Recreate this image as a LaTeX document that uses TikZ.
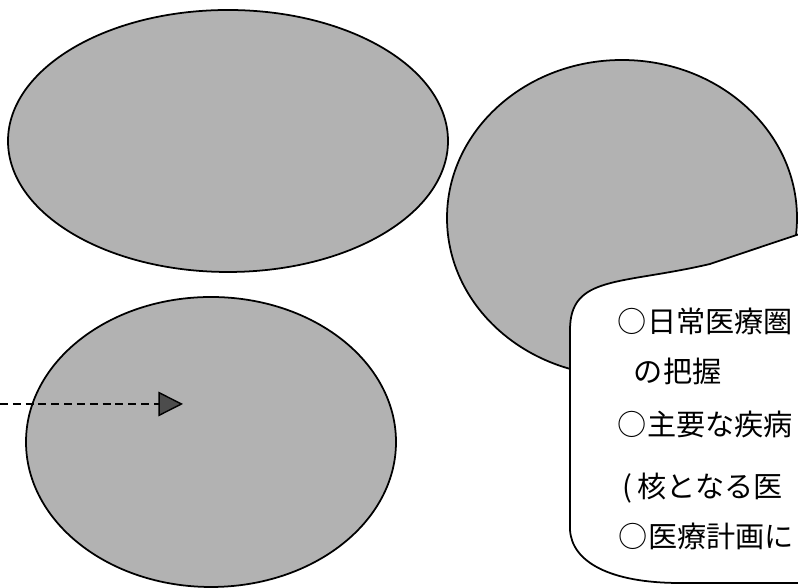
\documentclass[tikz,border=0pt]{standalone}
\usepackage{fontspec}
\newfontfamily\jpfont{Noto Sans CJK JP}
\usetikzlibrary{arrows.meta}

\begin{document}
\begin{tikzpicture}[line width=1pt]
\useasboundingbox (0,0) rectangle (15.96,11.76);
\tikzset{blob/.style={fill=black!30},
         memo/.style={anchor=west,inner sep=0pt,font=\jpfont\fontsize{16.6}{20}\selectfont}}

\draw[blob] (4.56,8.94) ellipse (4.4 and 2.62);
\draw[blob] (4.22,2.92) ellipse (3.7 and 2.9);
\draw[blob] (12.44,7.40) ellipse (3.5 and 3.16);

% callout cut into the right blob
\draw[fill=white] (16.2,7.15) -- (14.2,6.48) .. controls (12.4,6.06) and (11.4,6.26) .. (11.4,5.16)
   -- (11.4,1.16) .. controls (11.44,0.52) and (12.2,0.10) .. (13.6,0.10) -- (16.2,0.10) -- cycle;

\node[memo] (line1) at (12.34,5.34) {○日常医療圏};
\node[memo] (line2) at (12.66,4.34) {の把握};
\node[memo] (line3) at (12.34,3.28) {○主要な疾病};
\node[memo] (line4) at (12.44,2.00) {(\,核となる医};
\node[memo] (line5) at (12.36,1.04) {○医療計画に};

\coordinate (arrowstart) at (0,3.68);
\coordinate (arrowtip) at (3.66,3.68);
\draw[line width=0.8pt,dash pattern=on 4.5pt off 2.8pt,-{Triangle[length=14pt,width=14pt,fill=black!70]}] (arrowstart) -- (arrowtip);
\end{tikzpicture}
\end{document}
